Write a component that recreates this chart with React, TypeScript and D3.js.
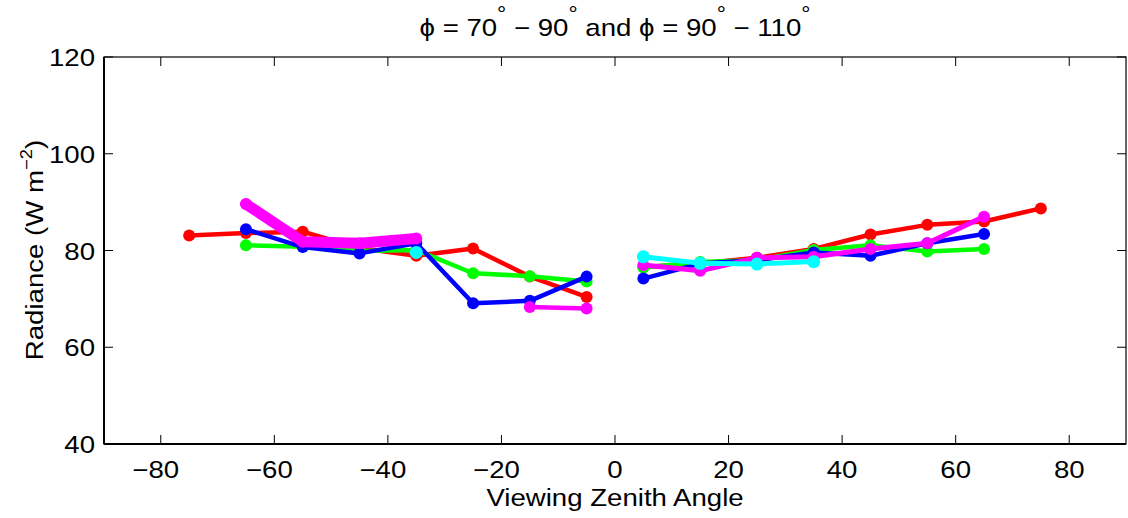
import React from "react";
import * as d3 from "d3";

const xLeft = [-75, -65, -55, -45, -35, -25, -15, -5];
const xRight = [5, 15, 25, 35, 45, 55, 65, 75];

const redLeft = [83.1, 83.6, 83.9, 80.5, 78.9, 80.4, 74.6, 70.4];
const redRight = [76.6, 77.3, 78.5, 80.3, 83.3, 85.3, 86.0, 88.7];
const greenLeft = [81.1, 80.8, 79.9, 80.1, 75.3, 74.7, 73.6];
const greenRight = [76.5, 77.6, 78.0, 80.1, 81.1, 79.8, 80.3];
const blueLeft = [84.4, 80.7, 79.4, 81.5, 69.1, 69.6, 74.6];
const blueRight = [74.2, 77.3, 78.0, 79.6, 78.9, 81.5, 83.4];
const magentaLeftA = [89.6, 81.8, 81.5, 82.5];
const magentaLeftB = [68.3, 68.0];
const magentaRight = [77.0, 75.8, 78.5, 78.7, 80.3, 81.5, 87.0];
const cyanLeft = [79.6];
const cyanRight = [78.7, 77.35, 77.2, 77.7];

const xTicks = [-80, -60, -40, -20, 0, 20, 40, 60, 80];
const yTicks = [40, 60, 80, 100, 120];

const W = 1128, H = 518;
const ml = 104, mr = 1126, mt = 57, mb = 444;
const FS = 24;
const SX = 1.15;

type Seg = { xs: number[]; ys: number[]; color: string; lw: number; r: number };

function T(props: { x: number; y: number; anchor?: string; rotate?: boolean; children: React.ReactNode }) {
  const tr = props.rotate
    ? `translate(${props.x},${props.y}) rotate(-90) scale(${SX},1)`
    : `translate(${props.x},${props.y}) scale(${SX},1)`;
  return (
    <text transform={tr} fontSize={FS} textAnchor={props.anchor || "middle"}>
      {props.children}
    </text>
  );
}

export default function App() {
  const x = d3.scaleLinear().domain([-90, 90]).range([ml, mr]);
  const y = d3.scaleLinear().domain([40, 120]).range([mb, mt]);
  const line = d3.line<[number, number]>().x(d => x(d[0])).y(d => y(d[1]));

  const segs: Seg[] = [
    { xs: xLeft, ys: redLeft, color: "#ff0000", lw: 4.5, r: 6 },
    { xs: xRight, ys: redRight, color: "#ff0000", lw: 4.5, r: 6 },
    { xs: xLeft.slice(1), ys: greenLeft, color: "#00ff00", lw: 4.5, r: 6 },
    { xs: xRight.slice(0, 7), ys: greenRight, color: "#00ff00", lw: 4.5, r: 6 },
    { xs: xLeft.slice(1), ys: blueLeft, color: "#0000ff", lw: 4.5, r: 6 },
    { xs: xRight.slice(0, 7), ys: blueRight, color: "#0000ff", lw: 4.5, r: 6 },
    { xs: xLeft.slice(1, 5), ys: magentaLeftA, color: "#ff00ff", lw: 11, r: 6 },
    { xs: xLeft.slice(6, 8), ys: magentaLeftB, color: "#ff00ff", lw: 4.5, r: 6 },
    { xs: xRight.slice(0, 7), ys: magentaRight, color: "#ff00ff", lw: 5, r: 6 },
    { xs: xLeft.slice(4, 5), ys: cyanLeft, color: "#00ffff", lw: 5, r: 6.5 },
    { xs: xRight.slice(0, 4), ys: cyanRight, color: "#00ffff", lw: 5, r: 6.5 },
  ];

  const font = "'Liberation Sans', Arial, Helvetica, sans-serif";
  const tl = 9;
  const sup = { fontSize: 20, dy: -15 };

  return (
    <svg width={W} height={H} style={{ position: "absolute", left: 0, top: 0 }} fontFamily={font}>
      <rect width={W} height={H} fill="#fff" />
      <T x={615} y={36}>
        <tspan>ϕ = 70</tspan>
        <tspan fontSize={sup.fontSize} dy={sup.dy}>°</tspan>
        <tspan dy={-sup.dy}> − 90</tspan>
        <tspan fontSize={sup.fontSize} dy={sup.dy}>°</tspan>
        <tspan dy={-sup.dy}> and ϕ = 90</tspan>
        <tspan fontSize={sup.fontSize} dy={sup.dy}>°</tspan>
        <tspan dy={-sup.dy}> − 110</tspan>
        <tspan fontSize={sup.fontSize} dy={sup.dy}>°</tspan>
      </T>
      <g>
        {segs.map((s, i) => {
          const pts = s.ys.map((v, j) => [s.xs[j], v] as [number, number]);
          return (
            <g key={i}>
              {pts.length > 1 && (
                <path d={line(pts) || ""} fill="none" stroke={s.color} strokeWidth={s.lw}
                  strokeLinejoin="round" strokeLinecap="round" />
              )}
              {pts.map((p, j) => (
                <circle key={j} cx={x(p[0])} cy={y(p[1])} r={s.r} fill={s.color} />
              ))}
            </g>
          );
        })}
      </g>
      <rect x={ml} y={mt} width={mr - ml} height={mb - mt} fill="none" stroke="#000" strokeWidth={1.2} />
      <line x1={ml} x2={mr} y1={mb} y2={mb} stroke="#000" strokeWidth={2} />
      <line x1={ml} x2={ml} y1={mt} y2={mb} stroke="#000" strokeWidth={2} />
      {xTicks.map(t => (
        <g key={"x" + t}>
          <line x1={x(t)} x2={x(t)} y1={mb} y2={mb - tl} stroke="#000" strokeWidth={1} />
          <line x1={x(t)} x2={x(t)} y1={mt} y2={mt + tl} stroke="#000" strokeWidth={1} />
          <T x={x(t) + (t < 0 ? -5 : 0)} y={mb + 34}>
            {t < 0 ? "−" + Math.abs(t) : String(t)}
          </T>
        </g>
      ))}
      {yTicks.map(t => (
        <g key={"y" + t}>
          <line x1={ml} x2={ml + tl} y1={y(t)} y2={y(t)} stroke="#000" strokeWidth={1} />
          <line x1={mr} x2={mr - tl} y1={y(t)} y2={y(t)} stroke="#000" strokeWidth={1} />
          <T x={ml - 9} y={y(t) + 9} anchor="end">{t}</T>
        </g>
      ))}
      <T x={615} y={506}>Viewing Zenith Angle</T>
      <T x={43} y={250} rotate>
        <tspan>Radiance (W m</tspan>
        <tspan fontSize={16} dy={-11}>−2</tspan>
        <tspan dy={11}>)</tspan>
      </T>
    </svg>
  );
}
